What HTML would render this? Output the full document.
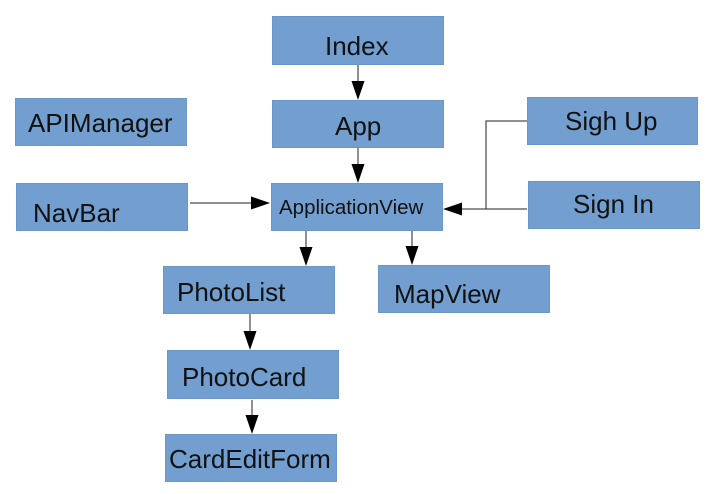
<!DOCTYPE html>
<html><head><style>
body{margin:0;background:#fff;width:712px;height:494px;overflow:hidden;position:relative;font-family:"Liberation Sans",sans-serif}
.b{position:absolute;background:#729fcf;border:1px solid #6a96c8;box-sizing:border-box;font-size:26px;color:#111;line-height:1}
.b span{position:absolute;white-space:nowrap}
svg{position:absolute;left:0;top:0}
</style></head><body>
<div class="b" style="left:272px;top:16px;width:172px;height:49px"><span style="left:52px;top:16px">Index</span></div>
<div class="b" style="left:272px;top:100px;width:172px;height:48px"><span style="left:62px;top:12px">App</span></div>
<div class="b" style="left:15px;top:98px;width:172px;height:48px"><span style="left:12px;top:11px">APIManager</span></div>
<div class="b" style="left:16px;top:183px;width:172px;height:48px"><span style="left:16px;top:16px">NavBar</span></div>
<div class="b" style="left:271px;top:183px;width:172px;height:48px"><span style="left:7px;top:14px;font-size:20.5px">ApplicationView</span></div>
<div class="b" style="left:527px;top:97px;width:171px;height:48px"><span style="left:37px;top:10px">Sigh Up</span></div>
<div class="b" style="left:528px;top:181px;width:172px;height:48px"><span style="left:44px;top:9px">Sign In</span></div>
<div class="b" style="left:163px;top:266px;width:172px;height:48px"><span style="left:13px;top:12px">PhotoList</span></div>
<div class="b" style="left:378px;top:265px;width:172px;height:48px"><span style="left:15px;top:15px">MapView</span></div>
<div class="b" style="left:167px;top:350px;width:172px;height:49px"><span style="left:14px;top:13px">PhotoCard</span></div>
<div class="b" style="left:165px;top:434px;width:172px;height:48px"><span style="left:3px;top:11px">CardEditForm</span></div>
<svg width="712" height="494">
<g stroke="#222" stroke-width="1" fill="none">
<path d="M358 65V82M358 148V165M190 203H252M527 121H486V209M527 209H462M306 231V248M412 231V248M250 314V332M252 400V416"/>
</g>
<g fill="#000">
<path d="M351.5 81H364.5L358 100Z"/>
<path d="M351.5 164H364.5L358 183Z"/>
<path d="M251 196.5V209.5L270 203Z"/>
<path d="M462 202.5V215.5L443 209Z"/>
<path d="M299.5 247H312.5L306 266Z"/>
<path d="M405.5 246H418.5L412 265Z"/>
<path d="M243.5 331H256.5L250 350Z"/>
<path d="M245.5 415H258.5L252 434Z"/>
</g>
</svg>
</body></html>
